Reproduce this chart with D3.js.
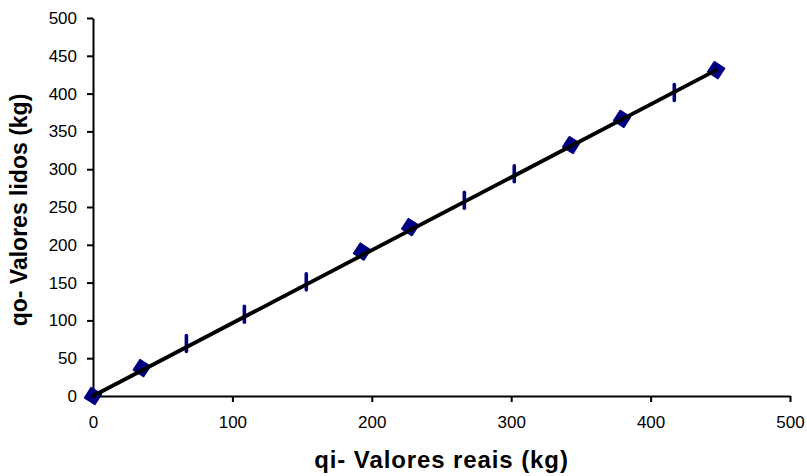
<!DOCTYPE html>
<html>
<head>
<meta charset="utf-8">
<script src="https://cdn.jsdelivr.net/npm/d3@7/dist/d3.min.js"></script>
<style>
  html, body { margin: 0; padding: 0; background: #fff; }
  svg { display: block; font-family: "Liberation Sans", Arial, sans-serif; }
</style>
</head>
<body>
<svg id="chart" width="807" height="476"></svg>
<script>
// Data
const diamondX = [0, 35, 193, 227.5, 343, 379.5, 447];
const diamondY = [0, 37, 191, 223.5, 332, 366.5, 431];
const dashX = [67, 108.6, 153, 266.4, 302.2, 417];
const dashY = [69.5, 108.2, 151, 259, 294, 401.5];
const lineX = [0, 447];
const lineY = [0, 431];
const xTicks = [0, 100, 200, 300, 400, 500];
const yTicks = [0, 50, 100, 150, 200, 250, 300, 350, 400, 450, 500];
const xTitle = "qi- Valores reais (kg)";
const yTitle = "qo- Valores lidos (kg)";

const svg = d3.select("#chart");
const x = d3.scaleLinear().domain([0, 500]).range([93, 790]);
const y = d3.scaleLinear().domain([0, 500]).range([396, 18]);
const navy = "#000080";

// Axes
const xAxis = svg.append("g").attr("transform", `translate(0,${y(0)})`)
  .call(d3.axisBottom(x).tickValues(xTicks).tickSize(6).tickPadding(14).tickSizeOuter(0));
const yAxis = svg.append("g").attr("transform", `translate(${x(0)},0)`)
  .call(d3.axisLeft(y).tickValues(yTicks).tickSize(6).tickPadding(10).tickSizeOuter(0));
[xAxis, yAxis].forEach(g => {
  g.select(".domain").attr("stroke", "#000").attr("stroke-width", 2);
  g.selectAll(".tick line").attr("stroke", "#000").attr("stroke-width", 2);
  g.selectAll(".tick text").attr("fill", "#000")
    .style("font-size", "17px").style("font-family", "'Liberation Sans', Arial, sans-serif");
});

// Dash markers
svg.append("g").selectAll("line").data(dashX.map((d, i) => [d, dashY[i]])).join("line")
  .attr("x1", d => x(d[0])).attr("x2", d => x(d[0]))
  .attr("y1", d => y(d[1]) - 8).attr("y2", d => y(d[1]) + 8)
  .attr("stroke", navy).attr("stroke-width", 3.6).attr("stroke-linecap", "round");

// Diamond markers
const sym = d3.symbol().type(d3.symbolSquare).size(150);
svg.append("g").selectAll("path").data(diamondX.map((d, i) => [d, diamondY[i]])).join("path")
  .attr("d", sym)
  .attr("transform", d => `translate(${x(d[0])},${y(d[1])}) rotate(33)`)
  .attr("fill", navy).attr("stroke", navy).attr("stroke-width", 1.5).attr("stroke-linejoin", "round");

// Line
svg.append("path")
  .datum(lineX.map((d, i) => [d, lineY[i]]))
  .attr("d", d3.line().x(d => x(d[0])).y(d => y(d[1])))
  .attr("fill", "none").attr("stroke", "#000").attr("stroke-width", 3.8).attr("stroke-linecap", "round");

// Axis titles
svg.append("text").attr("x", (x(0) + x(500)) / 2).attr("y", 468)
  .attr("text-anchor", "middle").style("font-size", "24px").style("font-weight", "bold")
  .style("letter-spacing", "0.9px")
  .text(xTitle);
svg.append("text").attr("transform", `translate(27,${(y(0) + y(500)) / 2 + 3}) rotate(-90)`)
  .attr("text-anchor", "middle").style("font-size", "23px").style("font-weight", "bold")
  .text(yTitle);
</script>
</body>
</html>
